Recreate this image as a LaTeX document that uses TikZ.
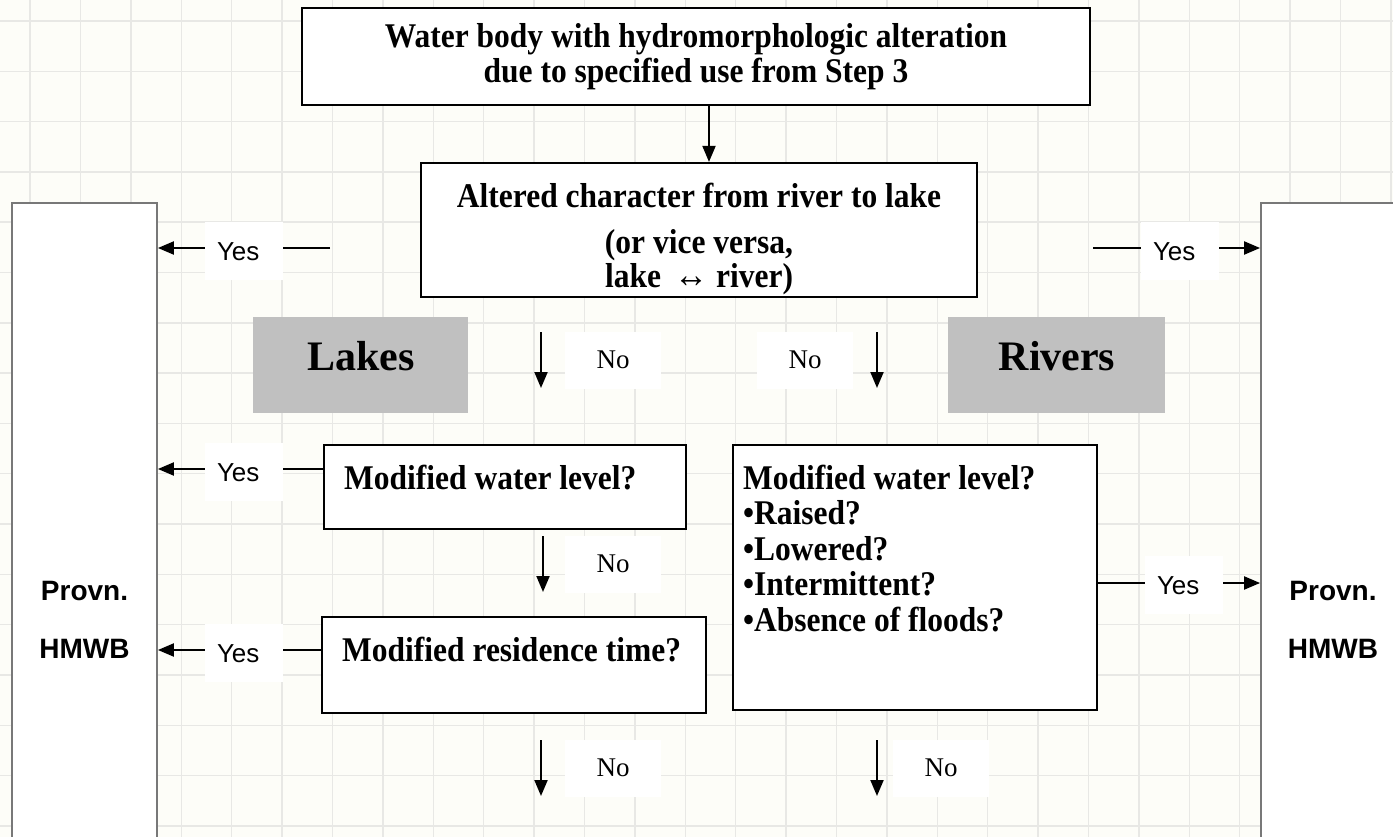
\documentclass[tikz,border=0pt]{standalone}
\usepackage{fontspec}
\setmainfont{Liberation Serif}
\setsansfont{Liberation Sans}
\usetikzlibrary{arrows.meta}
\definecolor{bg}{RGB}{253,253,248}
\definecolor{gridc}{RGB}{232,232,229}
\definecolor{boxgray}{RGB}{192,192,192}
\definecolor{tallc}{RGB}{120,120,120}
\newcommand{\qline}[1]{\scalebox{1}[1.1]{#1}}
\begin{document}
\begin{tikzpicture}[x=1pt,y=-1pt,
  qbox/.style={draw=black,line width=2.2pt,fill=white,inner sep=0pt},
  qfont/.style={font=\bfseries\fontsize{31.5pt}{35pt}\selectfont,inner sep=0pt},
  graybox/.style={fill=boxgray,draw=none,inner sep=0pt},
  bigfont/.style={font=\bfseries\fontsize{42pt}{48pt}\selectfont,inner sep=0pt},
  tallbox/.style={draw=tallc,line width=1.8pt,fill=white,inner sep=0pt},
  provfont/.style={font=\sffamily\bfseries\fontsize{28pt}{32pt}\selectfont,inner sep=0pt},
  yeslab/.style={fill=white,inner sep=0pt,minimum width=78pt,minimum height=58pt,
    font=\sffamily\fontsize{26pt}{30pt}\selectfont,text height=18.6pt,text depth=0pt},
  nolab/.style={fill=white,inner sep=0pt,minimum width=96pt,minimum height=57pt,
    font=\fontsize{27pt}{30pt}\selectfont,text height=17.9pt,text depth=0pt},
  arr/.style={-{Triangle[length=16pt,width=13pt]},line width=2pt,draw=black}]
\useasboundingbox (0,0) rectangle (1393,837);
\clip (0,0) rectangle (1393,837);
\fill[bg] (0,0) rectangle (1393,837);
\foreach \i in {0,...,27} \draw[gridc,line width=1.4pt] ({30+50.4*\i},0) -- ({30+50.4*\i},837);
\foreach \j in {0,...,16} \draw[gridc,line width=1.4pt] (0,{21+50.3*\j}) -- (1393,{21+50.3*\j});

% tall boxes
\node[tallbox,minimum width=145pt,minimum height=660pt] (provL) at (84.5,533) {};
\node[tallbox,minimum width=149pt,minimum height=660pt] (provR) at (1335.5,533) {};
\node[provfont,anchor=base] (provL1) at (84.5,600) {Provn.};
\node[provfont,anchor=base] (provL2) at (84.5,658) {HMWB};
\node[provfont,anchor=base] (provR1) at (1333,600) {Provn.};
\node[provfont,anchor=base] (provR2) at (1333,658) {HMWB};

% question boxes
\node[qbox,minimum width=788pt,minimum height=97pt] (top) at (696,56.5) {};
\node[qfont,font=\bfseries\fontsize{31.5pt}{34pt}\selectfont,anchor=base] (topt) at (696,48)
  {\begin{tabular}[t]{@{}c@{}}\qline{Water body with hydromorphologic alteration}\\\qline{due to specified use from Step 3}\end{tabular}};
\node[qbox,minimum width=556pt,minimum height=134pt] (mid) at (699,230) {};
\node[qfont,font=\bfseries\fontsize{31.5pt}{33pt}\selectfont,anchor=base] (midt) at (699,208)
  {\begin{tabular}[t]{@{}c@{}}\qline{Altered character from river to lake}\\[12pt]\qline{(or vice versa,}\\\qline{lake \,{\mdseries\fontsize{34pt}{35pt}\selectfont ↔} river)}\end{tabular}};
\node[qbox,minimum width=362pt,minimum height=84pt] (box1) at (505,487) {};
\node[qfont,anchor=base west] (box1t) at (344,489) {\qline{Modified water level?}};
\node[qbox,minimum width=384pt,minimum height=96pt] (box2) at (514,665) {};
\node[qfont,anchor=base west] (box2t) at (342,661) {\qline{Modified residence time?}};
\node[qbox,minimum width=364pt,minimum height=265pt] (box3) at (915,577.5) {};
\node[qfont,font=\bfseries\fontsize{31.5pt}{35.5pt}\selectfont,anchor=base west] (box3t) at (743,489)
  {\begin{tabular}[t]{@{}l@{}}\qline{Modified water level?}\\\qline{•Raised?}\\\qline{•Lowered?}\\\qline{•Intermittent?}\\\qline{•Absence of floods?}\end{tabular}};

% category boxes
\node[graybox,minimum width=215pt,minimum height=96pt] (lakes) at (360.5,365) {};
\node[bigfont,anchor=base] (lakest) at (361,370) {Lakes};
\node[graybox,minimum width=217pt,minimum height=96pt] (rivers) at (1056.5,365) {};
\node[bigfont,anchor=base] (riverst) at (1057,370) {Rivers};

% connectors
\coordinate (ax) at (709,0);
\draw[arr] (top.south -| ax) -- (mid.north -| ax);
\coordinate (yl1) at (330,248);
\draw[arr] (yl1) -- (yl1 -| provL.east);
\coordinate (yr1) at (1093,248);
\draw[arr] (yr1) -- (yr1 -| provR.west);
\coordinate (yl2) at (0,469);
\draw[arr] (yl2 -| box1.west) -- (yl2 -| provL.east);
\coordinate (yl3) at (0,650);
\draw[arr] (yl3 -| box2.west) -- (yl3 -| provL.east);
\coordinate (yr2) at (0,583);
\draw[arr] (yr2 -| box3.east) -- (yr2 -| provR.west);
\coordinate (n1a) at (541,332); \coordinate (n1b) at (541,388);
\coordinate (n2a) at (877,332); \coordinate (n2b) at (877,388);
\coordinate (n3a) at (543,536); \coordinate (n3b) at (543,592);
\coordinate (n4a) at (541,740); \coordinate (n4b) at (541,796);
\coordinate (n5a) at (877,740); \coordinate (n5b) at (877,796);
\draw[arr] (n1a) -- (n1b);
\draw[arr] (n2a) -- (n2b);
\draw[arr] (n3a) -- (n3b);
\draw[arr] (n4a) -- (n4b);
\draw[arr] (n5a) -- (n5b);

% labels
\node[yeslab] (yesL1) at (244,251) {\makebox[78pt][l]{\hspace{12pt}Yes}};
\node[yeslab] (yesL2) at (244,472) {\makebox[78pt][l]{\hspace{12pt}Yes}};
\node[yeslab] (yesL3) at (244,653) {\makebox[78pt][l]{\hspace{12pt}Yes}};
\node[yeslab] (yesR1) at (1180,251) {\makebox[78pt][l]{\hspace{12pt}Yes}};
\node[yeslab] (yesR2) at (1184,585) {\makebox[78pt][l]{\hspace{12pt}Yes}};
\node[nolab] (no1) at (613,360) {\makebox[70pt][c]{No}\hspace{26pt}};
\node[nolab] (no2) at (805,360) {\makebox[70pt][c]{No}\hspace{26pt}};
\node[nolab] (no3) at (613,564) {\makebox[70pt][c]{No}\hspace{26pt}};
\node[nolab] (no4) at (613,768) {\makebox[70pt][c]{No}\hspace{26pt}};
\node[nolab] (no5) at (941,768) {\makebox[70pt][c]{No}\hspace{26pt}};
\end{tikzpicture}
\end{document}
